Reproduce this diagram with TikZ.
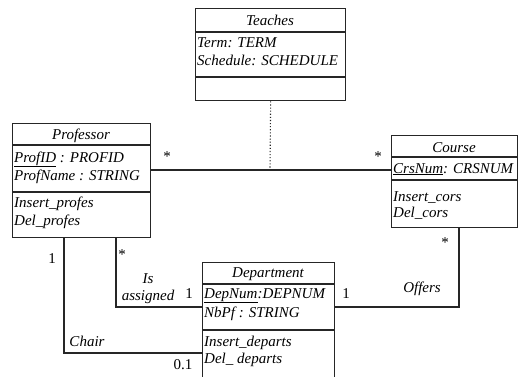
\documentclass[tikz,border=0pt]{standalone}
\usepackage{fontspec}
\setmainfont{Liberation Serif}
\begin{document}
\begin{tikzpicture}[x=1pt,y=-1pt,
  box/.style={draw=black!85, line width=1.3pt, rectangle, inner sep=0pt, anchor=north west},
  sep/.style={draw=black!85, line width=1.3pt},
  conn/.style={draw=black!85, line width=1.3pt},
  txt/.style={font=\fontsize{15}{18}\selectfont\itshape, inner sep=0pt, anchor=base west},
  ttl/.style={font=\fontsize{15}{18}\selectfont\itshape, inner sep=0pt, anchor=base},
  mult/.style={font=\fontsize{15}{18}\selectfont, inner sep=0pt, anchor=base},
  lbl/.style={font=\fontsize{15}{18}\selectfont\itshape, inner sep=0pt, anchor=base}]
\clip (0,0) rectangle (518,376);
\fill[white] (0,0) rectangle (518,376);
% boxes
\node[box, minimum width=150pt, minimum height=92pt] (teaches) at (195,8) {};
\node[box, minimum width=138pt, minimum height=114pt] (prof) at (12,123) {};
\node[box, minimum width=126pt, minimum height=92pt] (course) at (391,135) {};
\node[box, minimum width=132pt, minimum height=118pt] (dept) at (202,262) {};
% dividers
\draw[sep] (teaches.west |- 0,32) -- (teaches.east |- 0,32);
\draw[sep] (teaches.west |- 0,77) -- (teaches.east |- 0,77);
\draw[sep] (prof.west |- 0,145) -- (prof.east |- 0,145);
\draw[sep] (prof.west |- 0,192) -- (prof.east |- 0,192);
\draw[sep] (course.west |- 0,157) -- (course.east |- 0,157);
\draw[sep] (course.west |- 0,180) -- (course.east |- 0,180);
\draw[sep] (dept.west |- 0,284) -- (dept.east |- 0,284);
\draw[sep] (dept.west |- 0,330) -- (dept.east |- 0,330);
% texts
\node[ttl] (tT) at (270,25) {Teaches};
\node[txt] (tA1) at (197,47) {Term: TERM};
\node[txt] (tA2) at (197,65) {Schedule: SCHEDULE};
\node[ttl] (pT) at (81,139) {Professor};
\node[txt] (pA1) at (14,162) {\underline{ProfID} : PROFID};
\node[txt] (pA2) at (14,180) {ProfName : STRING};
\node[txt] (pO1) at (14,207) {Insert\_profes};
\node[txt] (pO2) at (14,225) {Del\_profes};
\node[ttl] (cT) at (454,152) {Course};
\node[txt] (cA1) at (393,173) {\underline{CrsNum}: CRSNUM};
\node[txt] (cO1) at (393,201) {Insert\_cors};
\node[txt] (cO2) at (393,217) {Del\_cors};
\node[ttl] (dT) at (268,277) {Department};
\node[txt] (dA1) at (204,298) {\underline{DepNum}:DEPNUM};
\node[txt] (dA2) at (204,317) {NbPf : STRING};
\node[txt] (dO1) at (204,346) {Insert\_departs};
\node[txt] (dO2) at (204,363) {Del\_ departs};
% connectors
\coordinate (pc) at (270,170);
\draw[conn] (prof.east |- pc) -- (course.west |- pc);
\draw[black!85, line width=1.1pt, dotted] (teaches.south) -- (pc);
\draw[conn] (prof.south -| 116,0) |- (dept.west |- 0,307);
\draw[conn] (prof.south -| 64,0) |- (dept.west |- 0,353);
\draw[conn] (course.south -| 459,0) |- (dept.east |- 0,307);
% labels
\node[mult] (m1) at (167,161) {*};
\node[mult] (m2) at (378,161) {*};
\node[mult] (m3) at (445,247) {*};
\node[mult] (m4) at (122,259) {*};
\node[mult] (m5) at (52,263) {1};
\node[mult] (m6) at (189,298) {1};
\node[mult] (m7) at (346,298) {1};
\node[mult] (m8) at (183,369) {0.1};
\node[lbl] (l1) at (148,283) {Is};
\node[lbl] (l2) at (148,300) {assigned};
\node[lbl] (l3) at (87,346) {Chair};
\node[lbl] (l4) at (422,292) {Offers};
\end{tikzpicture}
\end{document}
